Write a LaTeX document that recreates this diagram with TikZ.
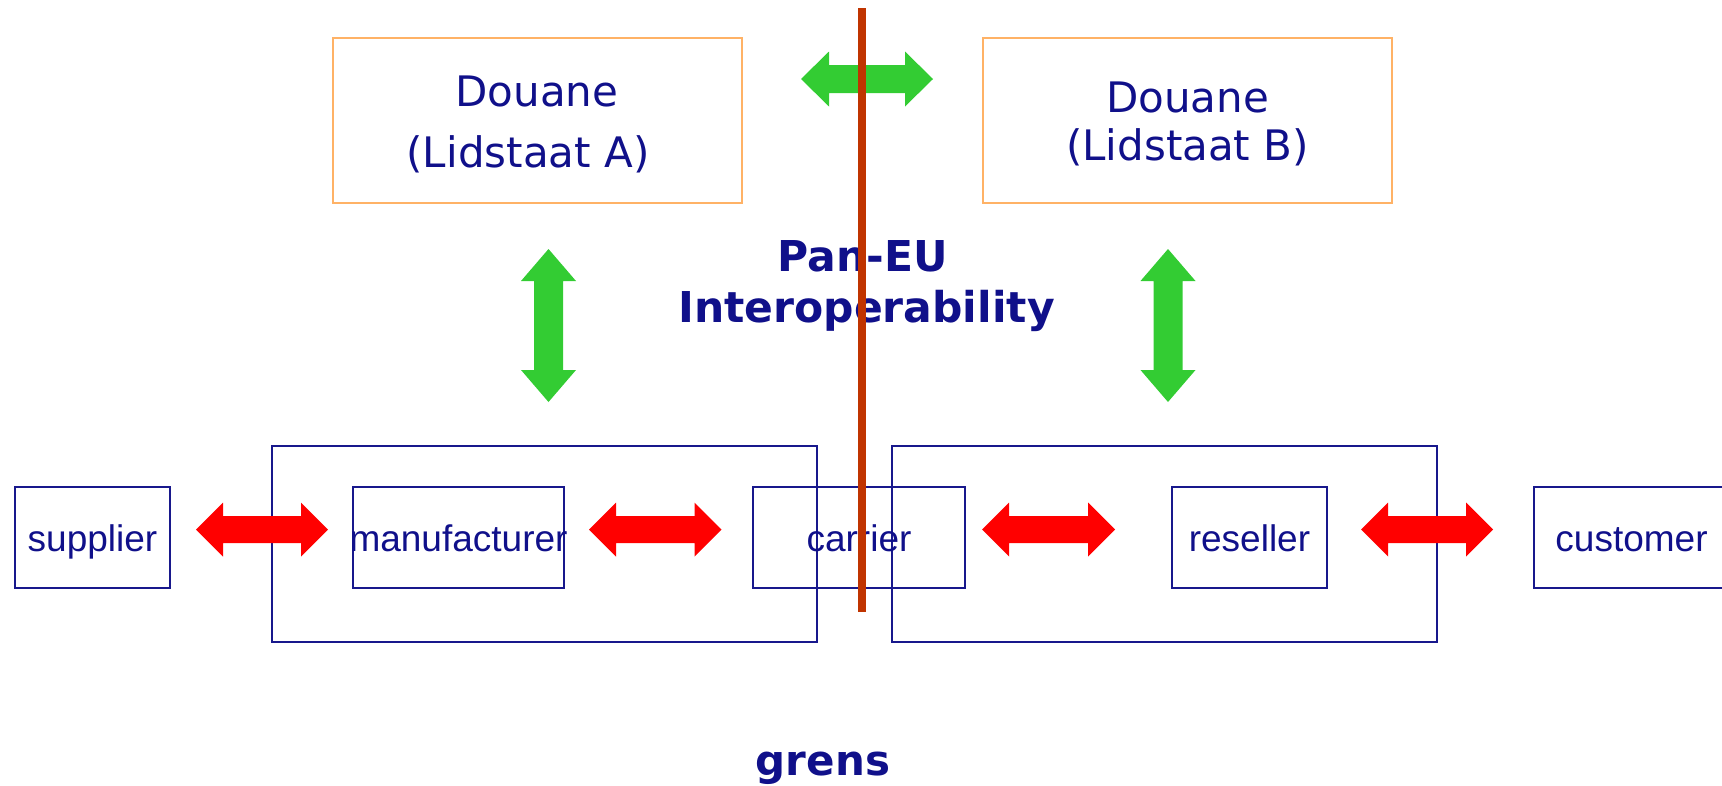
\documentclass[tikz,border=0pt]{standalone}
\usepackage{fontspec}
\setmainfont{Liberation Sans}
\newfontfamily\verd{DejaVu Sans}
\definecolor{txtnavy}{RGB}{16,16,138}
\definecolor{boxblue}{RGB}{24,24,140}
\definecolor{boxorange}{RGB}{255,178,102}
\definecolor{arrgreen}{RGB}{51,204,51}
\definecolor{borderred}{RGB}{192,52,0}
\definecolor{arrred}{RGB}{255,0,0}
% horizontal double block arrow: color, x1, x2, y, head length, head half width, shaft half width
\newcommand{\hdarrow}[7]{%
  \fill[#1] (#2,#4) -- ({#2+#5},{#4-#6}) -- ({#2+#5},{#4-#7}) -- ({#3-#5},{#4-#7}) -- ({#3-#5},{#4-#6})
    -- (#3,#4) -- ({#3-#5},{#4+#6}) -- ({#3-#5},{#4+#7}) -- ({#2+#5},{#4+#7}) -- ({#2+#5},{#4+#6}) -- cycle;}
% vertical double block arrow: color, x, y1, y2, head length, head half width, shaft half width
\newcommand{\vdarrow}[7]{%
  \fill[#1] (#2,#3) -- ({#2+#6},{#3+#5}) -- ({#2+#7},{#3+#5}) -- ({#2+#7},{#4-#5}) -- ({#2+#6},{#4-#5})
    -- (#2,#4) -- ({#2-#6},{#4-#5}) -- ({#2-#7},{#4-#5}) -- ({#2-#7},{#3+#5}) -- ({#2-#6},{#3+#5}) -- cycle;}
\tikzset{
  orangebox/.style={draw=boxorange, line width=2.2pt, rectangle, inner sep=0pt},
  bluebox/.style={draw=boxblue, line width=2pt, rectangle, inner sep=0pt},
  arial/.style={inner sep=0pt, anchor=base, text=txtnavy, font=\fontsize{37}{44}\selectfont},
  verdtxt/.style={inner sep=0pt, anchor=base, text=txtnavy, font=\verd\fontsize{42}{50}\selectfont},
  verdbold/.style={inner sep=0pt, anchor=base, text=txtnavy, font=\verd\bfseries\fontsize{42.5}{50}\selectfont},
}
\begin{document}
\begin{tikzpicture}[x=1pt,y=-1pt]
\useasboundingbox (0,0) rectangle (1722,785);
% customs boxes
\node[orangebox, minimum width=409pt, minimum height=165pt] (douA) at (537.5,120.5) {};
\node[orangebox, minimum width=409pt, minimum height=165pt] (douB) at (1187.5,120.5) {};
\node[verdtxt] (douAt1) at (537,106) {Douane};
\node[verdtxt] (douAt2) at (528,167) {(Lidstaat A)};
\node[verdtxt] (douBt1) at (1187.5,112) {Douane};
\node[verdtxt] (douBt2) at (1187.5,160) {(Lidstaat B)};
% Pan-EU text
\node[verdbold] (pan) at (863,271) {Pan-EU};
\node[verdbold] (interop) at (866.5,322) {Interoperability};
% big boxes
\node[bluebox, minimum width=545pt, minimum height=196pt] (bigA) at (544.5,544) {};
\node[bluebox, minimum width=545pt, minimum height=196pt] (bigB) at (1164.5,544) {};
% small boxes
\node[bluebox, minimum width=155pt, minimum height=101pt] (sup) at (92.5,537.5) {};
\node[bluebox, minimum width=211pt, minimum height=101pt] (man) at (458.5,537.5) {};
\node[bluebox, minimum width=212pt, minimum height=101pt] (car) at (859,537.5) {};
\node[bluebox, minimum width=155pt, minimum height=101pt] (res) at (1249.5,537.5) {};
\node[bluebox, minimum width=200pt, minimum height=101pt] (cus) at (1634,537.5) {};
\node[arial] (supt) at (92.5,551) {supplier};
\node[arial] (mant) at (458.5,551) {manufacturer};
\node[arial] (cart) at (859,551) {carrier};
\node[arial] (rest) at (1249.5,551) {reseller};
\node[arial] (cust) at (1631.5,551) {customer};
% green arrows
\hdarrow{arrgreen}{801}{933}{79}{28}{27.5}{14}
\vdarrow{arrgreen}{548.5}{249}{402}{32}{27.5}{14.5}
\vdarrow{arrgreen}{1168}{249}{402}{32}{27.5}{14.5}
% red arrows
\hdarrow{arrred}{196}{328}{529.5}{27}{27}{13.5}
\hdarrow{arrred}{589}{721.5}{529.5}{27}{27}{13.5}
\hdarrow{arrred}{982}{1115}{529.5}{27}{27}{13.5}
\hdarrow{arrred}{1361}{1493}{529.5}{27}{27}{13.5}
% border line
\coordinate (bordertop) at (862,8);
\coordinate (borderbot) at (862,612);
\draw[borderred, line width=8pt] (bordertop) -- (borderbot);
\node[verdbold, font=\verd\bfseries\fontsize{42}{50}\selectfont] (grens) at (823,775) {grens};
\end{tikzpicture}
\end{document}
